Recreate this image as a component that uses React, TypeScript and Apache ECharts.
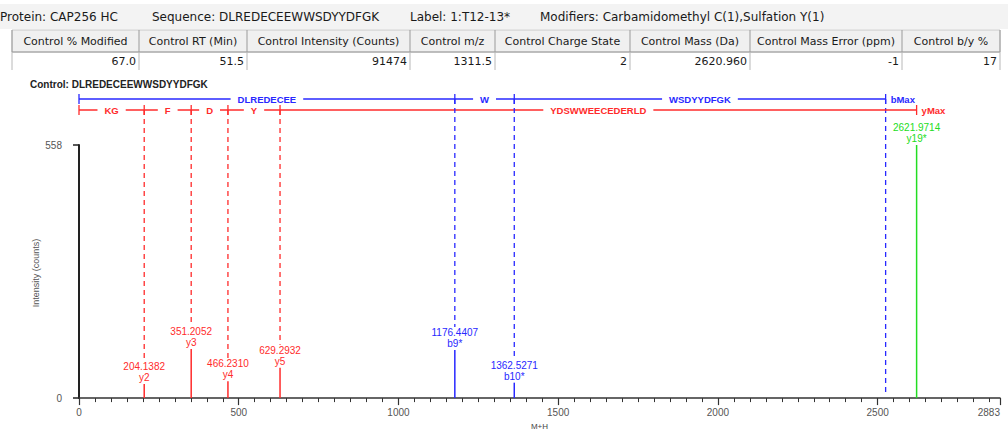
import React, { useEffect, useRef } from "react";
import * as echarts from "echarts";

// ---------- data ----------
const HEADER_ITEMS = [
  "Protein: CAP256 HC",
  "Sequence: DLREDECEEWWSDYYDFGK",
  "Label: 1:T12-13*",
  "Modifiers: Carbamidomethyl C(1),Sulfation Y(1)",
];
const TABLE_COLUMNS = [
  "Control % Modified",
  "Control RT (Min)",
  "Control Intensity (Counts)",
  "Control m/z",
  "Control Charge State",
  "Control Mass (Da)",
  "Control Mass Error (ppm)",
  "Control b/y %",
];
const TABLE_VALUES = ["67.0", "51.5", "91474", "1311.5", "2", "2620.960", "-1", "17"];
const CHART_TITLE = "Control: DLREDECEEWWSDYYDFGK";
const Y_AXIS_TITLE = "Intensity (counts)";

const PEAK_MZ = [204.1382, 351.2052, 466.231, 629.2932, 1176.4407, 1362.5271, 2621.9714];
const PEAK_INTENSITY = [31, 108, 37, 67, 106, 34, 558];
const PEAK_ION = ["y2", "y3", "y4", "y5", "b9*", "b10*", "y19*"];
const PEAK_KIND = ["y", "y", "y", "y", "b", "b", "max"];

const B_BREAKS = [0, 1176.4407, 1362.5271, 2525];
const B_SEGMENTS = ["DLREDECEE", "W", "WSDYYDFGK"];
const Y_BREAKS = [0, 204.1382, 351.2052, 466.231, 629.2932, 2621.9714];
const Y_SEGMENTS = ["KG", "F", "D", "Y", "YDSWWEECEDERLD"];

const X_MAX = 2883;
const Y_MAX = 558;

// ---------- layout / style ----------
const HEADER_X = [0, 152, 410, 540];
const COL_EDGES = [12, 139, 247, 410, 495, 630, 750, 902, 1000];
const RED = "#ff2b2b";
const BLUE = "#2828ff";
const GREEN = "#22dd22";
const B_BAR_Y = 99;
const Y_BAR_Y = 110;
const UI_FONT = "DejaVu Sans, Verdana, sans-serif";

function buildGraphic() {
  const els: any[] = [];
  els.push({ type: "rect", shape: { x: 0, y: 4, width: 1008, height: 25 }, style: { fill: "#f3f3f3" }, silent: true });
  HEADER_ITEMS.forEach((t, i) => {
    els.push({
      type: "text",
      x: HEADER_X[i],
      y: 17,
      style: { text: t, fill: "#1a1a1a", font: `12px ${UI_FONT}`, verticalAlign: "middle", align: "left" },
    });
  });
  const L = COL_EDGES[0];
  const R = COL_EDGES[COL_EDGES.length - 1];
  els.push({ type: "rect", shape: { x: L, y: 30, width: R - L, height: 22 }, style: { fill: "#f0f0f0", stroke: "#c8c8c8", lineWidth: 1 } });
  els.push({ type: "line", shape: { x1: L, y1: 52, x2: R, y2: 52 }, style: { stroke: "#9a9a9a", lineWidth: 1 } });
  COL_EDGES.forEach((x) => {
    els.push({ type: "line", shape: { x1: x, y1: 30, x2: x, y2: 52 }, style: { stroke: "#9a9a9a", lineWidth: 1 } });
    els.push({ type: "line", shape: { x1: x, y1: 52, x2: x, y2: 70 }, style: { stroke: "#b8b8b8", lineWidth: 1 } });
  });
  TABLE_COLUMNS.forEach((t, i) => {
    const cx = (COL_EDGES[i] + COL_EDGES[i + 1]) / 2;
    els.push({ type: "text", x: cx, y: 41, style: { text: t, fill: "#1a1a1a", font: `11px ${UI_FONT}`, align: "center", verticalAlign: "middle" } });
  });
  TABLE_VALUES.forEach((t, i) => {
    els.push({ type: "text", x: COL_EDGES[i + 1] - 3, y: 61, style: { text: t, fill: "#1a1a1a", font: `11px ${UI_FONT}`, align: "right", verticalAlign: "middle" } });
  });
  els.push({ type: "text", x: 30, y: 84, style: { text: CHART_TITLE, fill: "#222", font: "bold 10px Arial, Liberation Sans, sans-serif", verticalAlign: "middle" } });
  els.push({
    type: "text",
    x: 36,
    y: 273,
    rotation: Math.PI / 2,
    style: { text: Y_AXIS_TITLE, fill: "#555", font: "9px Arial, Liberation Sans, sans-serif", align: "center", verticalAlign: "middle" },
  });
  return els;
}

function seqData(breaks: number[], kind: number) {
  const rows: any[] = [];
  for (let i = 0; i < breaks.length - 1; i++) rows.push([breaks[i], breaks[i + 1], i, kind]);
  return rows;
}

export default function App() {
  const ref = useRef<HTMLDivElement>(null);
  useEffect(() => {
    if (!ref.current) return;
    const chart = echarts.init(ref.current, null, { renderer: "svg" });

    const peakRender = (params: any, api: any) => {
      const i = params.dataIndex;
      const mz = api.value(0);
      const inten = api.value(1);
      const base = api.coord([mz, 0]);
      const top = api.coord([mz, inten]);
      const kind = PEAK_KIND[i];
      const color = kind === "b" ? BLUE : kind === "y" ? RED : GREEN;
      const labelBottom = top[1] - 1;
      const labelTop = labelBottom - 22;
      const children: any[] = [];
      if (kind !== "max") {
        children.push({
          type: "line",
          shape: { x1: top[0], y1: kind === "b" ? B_BAR_Y : Y_BAR_Y, x2: top[0], y2: labelTop },
          style: { stroke: color, lineWidth: 1.3, lineDash: [5, 4] },
        });
      }
      children.push({ type: "line", shape: { x1: base[0], y1: base[1], x2: top[0], y2: top[1] }, style: { stroke: color, lineWidth: 1.5 } });
      children.push({
        type: "text",
        style: {
          text: mz.toFixed(4) + "\n" + PEAK_ION[i],
          x: top[0],
          y: labelBottom,
          align: "center",
          verticalAlign: "bottom",
          fill: color,
          font: "10px Arial, Liberation Sans, sans-serif",
          lineHeight: 11,
        },
      });
      return { type: "group", children };
    };

    const seqRender = (params: any, api: any) => {
      const s = api.value(0);
      const e = api.value(1);
      const idx = api.value(2);
      const kind = api.value(3);
      const isB = kind === 0;
      const y = isB ? B_BAR_Y : Y_BAR_Y;
      const color = isB ? BLUE : RED;
      const labels = isB ? B_SEGMENTS : Y_SEGMENTS;
      const breaks = isB ? B_BREAKS : Y_BREAKS;
      const x1 = api.coord([s, 0])[0];
      const x2 = api.coord([e, 0])[0];
      const children: any[] = [];
      children.push({ type: "line", shape: { x1, y1: y, x2, y2: y }, style: { stroke: color, lineWidth: 1.3 } });
      children.push({ type: "line", shape: { x1, y1: y - 5, x2: x1, y2: y + 5 }, style: { stroke: color, lineWidth: 1.3 } });
      children.push({
        type: "text",
        style: {
          text: labels[idx],
          x: (x1 + x2) / 2,
          y,
          align: "center",
          verticalAlign: "middle",
          fill: color,
          font: "bold 9.5px Arial, Liberation Sans, sans-serif",
          backgroundColor: "#ffffff",
          padding: [1, 7],
        },
      });
      if (idx === breaks.length - 2) {
        children.push({ type: "line", shape: { x1: x2, y1: y - 5, x2, y2: y + 5 }, style: { stroke: color, lineWidth: 1.3 } });
        children.push({
          type: "text",
          style: { text: isB ? "bMax" : "yMax", x: x2 + 5, y, align: "left", verticalAlign: "middle", fill: color, font: "bold 9.5px Arial, Liberation Sans, sans-serif" },
        });
        if (isB) {
          const yb = api.coord([e, 0])[1];
          children.push({ type: "line", shape: { x1: x2, y1: y, x2, y2: yb - 2 }, style: { stroke: color, lineWidth: 1.3, lineDash: [5, 4] } });
        }
      }
      return { type: "group", children };
    };

    const option: any = {
      animation: false,
      backgroundColor: "#ffffff",
      grid: { left: 79, right: 8, top: 145, bottom: 35 },
      graphic: buildGraphic(),
      xAxis: [
        {
          type: "value",
          min: 0,
          max: X_MAX,
          interval: 500,
          position: "bottom",
          name: "M+H",
          nameLocation: "middle",
          nameGap: 16,
          nameTextStyle: { fontSize: 8, color: "#444", fontFamily: "Arial" },
          axisLine: { show: true, lineStyle: { color: "#333", width: 1.5 } },
          axisTick: { show: true, length: 7, lineStyle: { color: "#333", width: 1.2 } },
          axisLabel: {
            color: "#555",
            fontSize: 10,
            fontFamily: "Arial",
            margin: 9,
            showMaxLabel: true,
            alignMaxLabel: "right",
            formatter: (v: number) => String(v),
          },
          splitLine: { show: false },
        },
        {
          type: "value",
          min: 0,
          max: X_MAX,
          interval: 50,
          position: "bottom",
          axisLine: { show: false },
          axisTick: { show: true, length: 4, lineStyle: { color: "#333", width: 1 } },
          axisLabel: { show: false },
          splitLine: { show: false },
        },
      ],
      yAxis: {
        type: "value",
        min: 0,
        max: Y_MAX,
        interval: Y_MAX,
        axisLine: { show: true, lineStyle: { color: "#222", width: 2 } },
        axisTick: { show: true, length: 6, lineStyle: { color: "#222", width: 1.5 } },
        axisLabel: { color: "#555", fontSize: 10, fontFamily: "Arial", margin: 17 },
        splitLine: { show: false },
      },
      series: [
        {
          type: "custom",
          name: "sequence-b",
          renderItem: seqRender,
          encode: { x: [0, 1] },
          data: seqData(B_BREAKS, 0),
          z: 3,
        },
        {
          type: "custom",
          name: "sequence-y",
          renderItem: seqRender,
          encode: { x: [0, 1] },
          data: seqData(Y_BREAKS, 1),
          z: 3,
        },
        {
          type: "custom",
          name: "peaks",
          renderItem: peakRender,
          encode: { x: 0, y: 1 },
          data: PEAK_MZ.map((m, i) => [m, PEAK_INTENSITY[i]]),
          z: 4,
        },
      ],
    };
    chart.setOption(option);
    return () => chart.dispose();
  }, []);
  return <div ref={ref} style={{ position: "absolute", left: 0, top: 0, width: 1008, height: 435 }} />;
}
